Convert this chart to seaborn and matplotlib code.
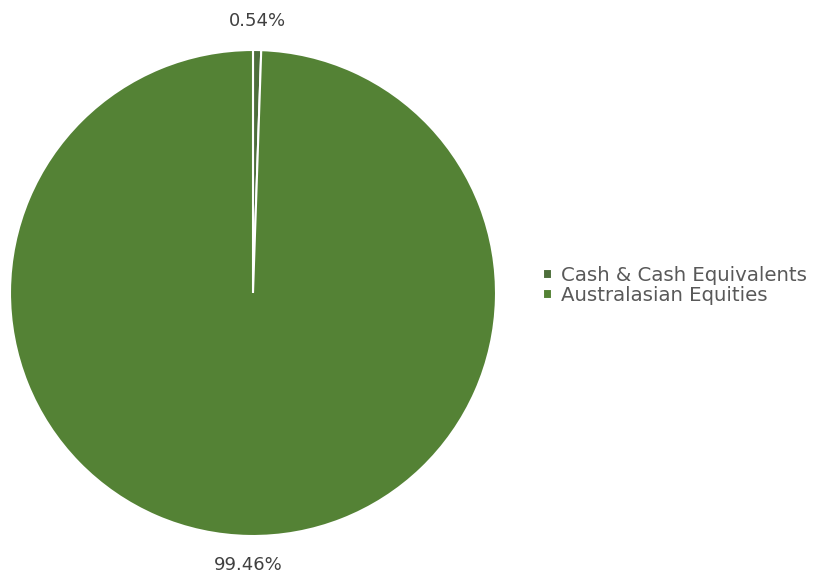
import matplotlib
matplotlib.use("Agg")
import matplotlib.pyplot as plt
import seaborn as sns

categories = ["Cash & Cash Equivalents", "Australasian Equities"]
values = [0.54, 99.46]
colors = ["#4d6e3b", "#548235"]

sns.set_theme(style="white")
plt.rcParams['font.family'] = ['DejaVu Sans']

fig = plt.figure(figsize=(8.25, 5.85), dpi=100)
ax = fig.add_axes([10/825, (585-536)/585, 486/825, 486/585])
wedges, texts = ax.pie(values, colors=colors, startangle=90, counterclock=False,
                       labels=[f"{v:.2f}%" for v in values], labeldistance=1.12,
                       wedgeprops=dict(edgecolor="white", linewidth=1.5),
                       textprops=dict(color="#404040", fontsize=13))
for t in texts:
    t.set_horizontalalignment("center")
ax.set_xlim(-1, 1)
ax.set_ylim(-1, 1)
ax.set_aspect("equal")
ax.axis("off")

leg = fig.legend(wedges, categories, loc="center left", bbox_to_anchor=(0.637, 0.512),
                 frameon=False, fontsize=14.2, handlelength=0.45, handleheight=0.45,
                 handletextpad=0.45, labelspacing=0.05, labelcolor="#595959")
fig.savefig("out.png", dpi=100, facecolor="white")
